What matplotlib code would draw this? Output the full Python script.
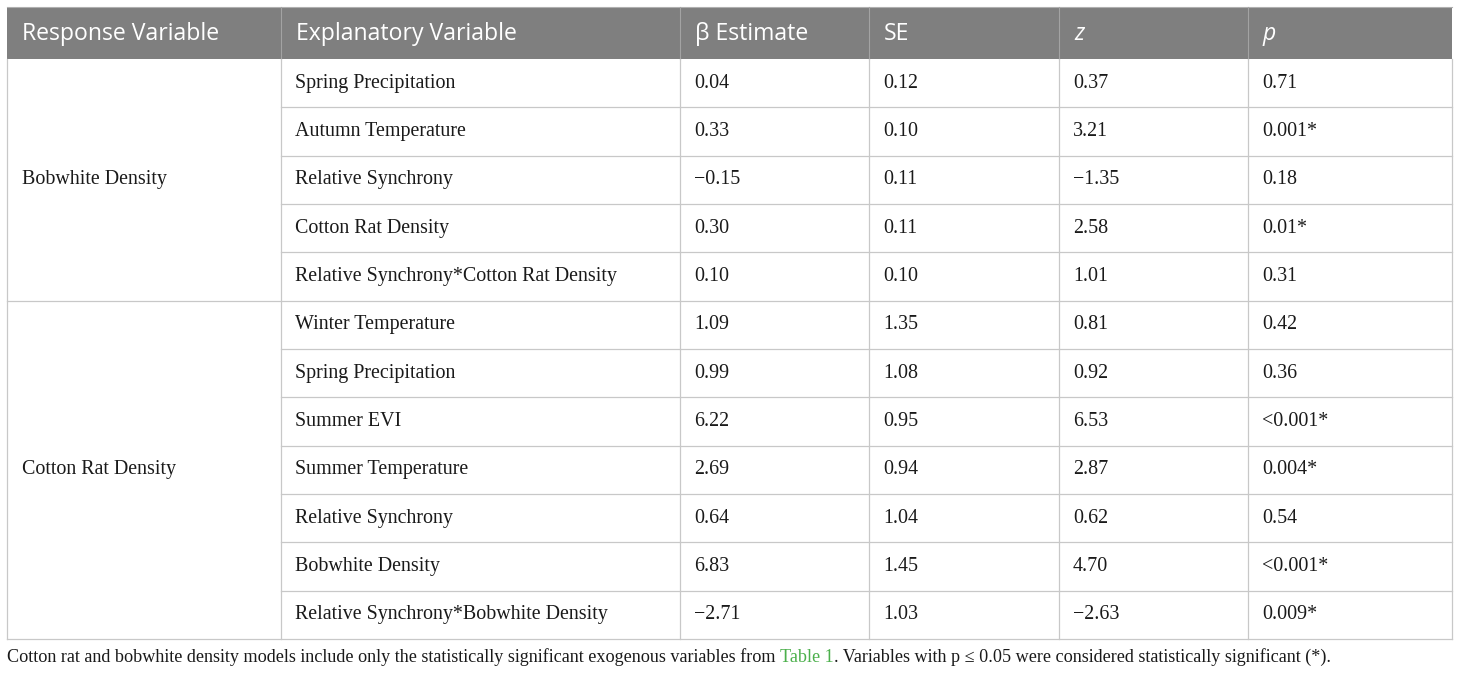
import matplotlib
matplotlib.use("Agg")
import matplotlib.pyplot as plt

# table content
responses = ["Bobwhite Density", "Cotton Rat Density"]
group_sizes = [5, 7]
explanatory = [
    "Spring Precipitation", "Autumn Temperature", "Relative Synchrony",
    "Cotton Rat Density", "Relative Synchrony*Cotton Rat Density",
    "Winter Temperature", "Spring Precipitation", "Summer EVI",
    "Summer Temperature", "Relative Synchrony", "Bobwhite Density",
    "Relative Synchrony*Bobwhite Density",
]
beta = ["0.04", "0.33", "\u22120.15", "0.30", "0.10",
        "1.09", "0.99", "6.22", "2.69", "0.64", "6.83", "\u22122.71"]
se = ["0.12", "0.10", "0.11", "0.11", "0.10",
      "1.35", "1.08", "0.95", "0.94", "1.04", "1.45", "1.03"]
zval = ["0.37", "3.21", "\u22121.35", "2.58", "1.01",
        "0.81", "0.92", "6.53", "2.87", "0.62", "4.70", "\u22122.63"]
pval = ["0.71", "0.001*", "0.18", "0.01*", "0.31",
        "0.42", "0.36", "<0.001*", "0.004*", "0.54", "<0.001*", "0.009*"]
headers = ["Response Variable", "Explanatory Variable", "\u03b2 Estimate", "SE", "z", "p"]
caption_a = ("Cotton rat and bobwhite density models include only the statistically "
             "significant exogenous variables from ")
caption_link = "Table 1"
caption_b = ". Variables with p \u2264 0.05 were considered statistically significant (*)."

W, H = 1460, 676
fig = plt.figure(figsize=(W / 100, H / 100), dpi=100)
ax = fig.add_axes([0, 0, 1, 1])
ax.set_xlim(0, W)
ax.set_ylim(H, 0)
ax.axis("off")

col_x = [7, 281, 680, 869, 1059, 1248, 1452]
top, head_bot, bottom = 7, 59, 639
n_rows = len(explanatory)
row_h = (bottom - head_bot) / n_rows
pad = 14
line_c = "#c8c8c8"
serif = "Liberation Serif"
sans = "Open Sans"
body_fs = 14.4
cap_fs = 13.1

# header
ax.add_patch(plt.Rectangle((col_x[0], top), col_x[-1] - col_x[0], head_bot - top,
                           facecolor="#7f7f7f", edgecolor="none"))
ax.plot([col_x[0], col_x[-1]], [top, top], color="#b0b0b0", lw=0.8)
for x in col_x[1:-1]:
    ax.plot([x, x], [top, head_bot], color="#a3a3a3", lw=0.8)
for i, h in enumerate(headers):
    style = "italic" if h in ("z", "p") else "normal"
    ax.text(col_x[i] + pad + 1, (top + head_bot) / 2 + 1.5, h, color="white",
            fontsize=16.6, family=sans, style=style, va="center", ha="left")

# body grid
ax.plot([col_x[0], col_x[0]], [head_bot, bottom], color=line_c, lw=0.9)
ax.plot([col_x[-1], col_x[-1]], [head_bot, bottom], color=line_c, lw=0.9)
for x in col_x[1:-1]:
    ax.plot([x, x], [head_bot, bottom], color=line_c, lw=0.9)
for r in range(1, n_rows + 1):
    y = head_bot + r * row_h
    x0 = col_x[0] if r in (group_sizes[0], n_rows) else col_x[1]
    ax.plot([x0, col_x[-1]], [y, y], color=line_c, lw=0.9)

# body text
cols = [explanatory, beta, se, zval, pval]
for r in range(n_rows):
    yc = head_bot + (r + 0.5) * row_h
    for c, values in enumerate(cols):
        ax.text(col_x[c + 1] + pad, yc, values[r], fontsize=body_fs, family=serif,
                color="#1a1a1a", va="center", ha="left")

start = 0
for name, n in zip(responses, group_sizes):
    yc = head_bot + (start + n / 2) * row_h
    ax.text(col_x[0] + pad + 1, yc, name, fontsize=body_fs, family=serif,
            color="#1a1a1a", va="center", ha="left")
    start += n

# caption with coloured link
fig.canvas.draw()
renderer = fig.canvas.get_renderer()
cap_y = 657
x = col_x[0]
for part, color in [(caption_a, "#1a1a1a"), (caption_link, "#4cb04c"), (caption_b, "#1a1a1a")]:
    t = ax.text(x, cap_y, part, fontsize=cap_fs, family=serif, color=color,
                va="center", ha="left")
    bb = t.get_window_extent(renderer)
    x += bb.width

fig.savefig("out.png", dpi=100, facecolor="white")
